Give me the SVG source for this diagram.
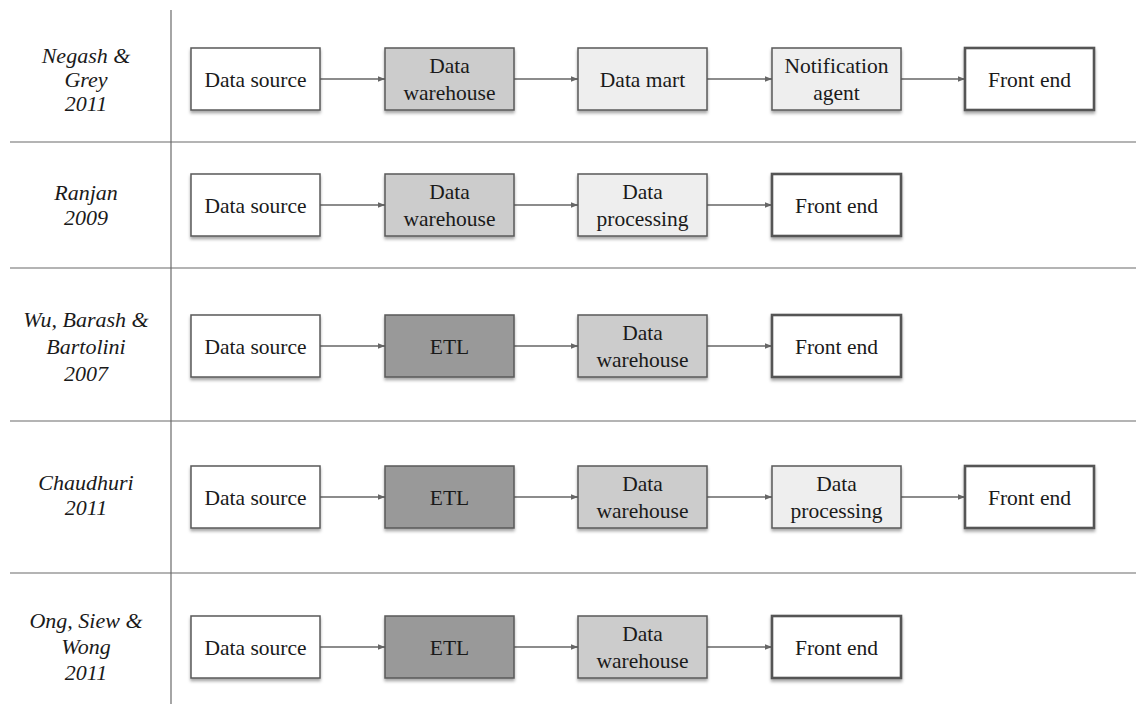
<svg xmlns="http://www.w3.org/2000/svg" width="1136" height="704" viewBox="0 0 1136 704">
  <defs>
    <filter id="shadow" x="-10%" y="-20%" width="120%" height="150%">
      <feDropShadow dx="0" dy="2.5" stdDeviation="1.8" flood-color="#000" flood-opacity="0.35"/>
    </filter>
    <marker id="arrow" viewBox="0 0 10 10" refX="10" refY="5" markerWidth="7" markerHeight="7" orient="auto" markerUnits="userSpaceOnUse">
      <path d="M0,1 L10,5 L0,9 Z" fill="#666"/>
    </marker>
  </defs>
  <style>
    .bg { fill: #ffffff; }
    .grid { stroke: #6a6a6a; stroke-width: 1.2; fill: none; }
    .box { stroke: #5a5a5a; stroke-width: 1.5; filter: url(#shadow); }
    .src { fill: #ffffff; }
    .dw { fill: #cccccc; }
    .lt { fill: #eeeeee; }
    .etl { fill: #999999; }
    .fe { fill: #ffffff; stroke-width: 2.6; stroke: #555; }
    .t { font-family: "Liberation Serif", "DejaVu Serif", serif; font-size: 21.5px; fill: #1a1a1a; text-anchor: middle; }
    .lbl { font-family: "Liberation Serif", "DejaVu Serif", serif; font-style: italic; font-size: 22px; fill: #1a1a1a; text-anchor: middle; }
    .conn { stroke: #666; stroke-width: 1.3; fill: none; marker-end: url(#arrow); }
  </style>
  <rect class="bg" width="1136" height="704"/>

  <!-- table grid -->
  <g id="grid" class="grid">
    <line x1="171" y1="10" x2="171" y2="704"/>
    <line x1="10" y1="142" x2="1136" y2="142"/>
    <line x1="10" y1="268" x2="1136" y2="268"/>
    <line x1="10" y1="421" x2="1136" y2="421"/>
    <line x1="10" y1="573" x2="1136" y2="573"/>
  </g>

  <!-- row labels -->
  <g id="label-negash">
    <text class="lbl" x="86" y="63">Negash &amp;</text>
    <text class="lbl" x="86" y="87">Grey</text>
    <text class="lbl" x="86" y="111">2011</text>
  </g>
  <g id="label-ranjan">
    <text class="lbl" x="86" y="200">Ranjan</text>
    <text class="lbl" x="86" y="225">2009</text>
  </g>
  <g id="label-wu">
    <text class="lbl" x="86" y="327">Wu, Barash &amp;</text>
    <text class="lbl" x="86" y="354">Bartolini</text>
    <text class="lbl" x="86" y="381">2007</text>
  </g>
  <g id="label-chaudhuri">
    <text class="lbl" x="86" y="490">Chaudhuri</text>
    <text class="lbl" x="86" y="515">2011</text>
  </g>
  <g id="label-ong">
    <text class="lbl" x="86" y="628">Ong, Siew &amp;</text>
    <text class="lbl" x="86" y="654">Wong</text>
    <text class="lbl" x="86" y="680">2011</text>
  </g>

  <!-- connectors -->
  <g id="connectors">
    <!-- row 1 -->
    <line class="conn" x1="320" y1="79" x2="385" y2="79"/>
    <line class="conn" x1="514" y1="79" x2="578" y2="79"/>
    <line class="conn" x1="707" y1="79" x2="772" y2="79"/>
    <line class="conn" x1="901" y1="79" x2="965" y2="79"/>
    <!-- row 2 -->
    <line class="conn" x1="320" y1="205" x2="385" y2="205"/>
    <line class="conn" x1="514" y1="205" x2="578" y2="205"/>
    <line class="conn" x1="707" y1="205" x2="772" y2="205"/>
    <!-- row 3 -->
    <line class="conn" x1="320" y1="346" x2="385" y2="346"/>
    <line class="conn" x1="514" y1="346" x2="578" y2="346"/>
    <line class="conn" x1="707" y1="346" x2="772" y2="346"/>
    <!-- row 4 -->
    <line class="conn" x1="320" y1="497" x2="385" y2="497"/>
    <line class="conn" x1="514" y1="497" x2="578" y2="497"/>
    <line class="conn" x1="707" y1="497" x2="772" y2="497"/>
    <line class="conn" x1="901" y1="497" x2="965" y2="497"/>
    <!-- row 5 -->
    <line class="conn" x1="320" y1="647" x2="385" y2="647"/>
    <line class="conn" x1="514" y1="647" x2="578" y2="647"/>
    <line class="conn" x1="707" y1="647" x2="772" y2="647"/>
  </g>

  <!-- row 1: Negash & Grey -->
  <g id="r1-source"><rect class="box src" x="191" y="48" width="129" height="62"/><text class="t" x="255.5" y="86.5">Data source</text></g>
  <g id="r1-warehouse"><rect class="box dw" x="385" y="48" width="129" height="62"/><text class="t" x="449.5" y="73">Data</text><text class="t" x="449.5" y="100">warehouse</text></g>
  <g id="r1-mart"><rect class="box lt" x="578" y="48" width="129" height="62"/><text class="t" x="642.5" y="86.5">Data mart</text></g>
  <g id="r1-notification"><rect class="box lt" x="772" y="48" width="129" height="62"/><text class="t" x="836.5" y="73">Notification</text><text class="t" x="836.5" y="100">agent</text></g>
  <g id="r1-frontend"><rect class="box fe" x="965" y="48" width="129" height="62"/><text class="t" x="1029.5" y="86.5">Front end</text></g>

  <!-- row 2: Ranjan -->
  <g id="r2-source"><rect class="box src" x="191" y="174" width="129" height="62"/><text class="t" x="255.5" y="212.5">Data source</text></g>
  <g id="r2-warehouse"><rect class="box dw" x="385" y="174" width="129" height="62"/><text class="t" x="449.5" y="199">Data</text><text class="t" x="449.5" y="226">warehouse</text></g>
  <g id="r2-processing"><rect class="box lt" x="578" y="174" width="129" height="62"/><text class="t" x="642.5" y="199">Data</text><text class="t" x="642.5" y="226">processing</text></g>
  <g id="r2-frontend"><rect class="box fe" x="772" y="174" width="129" height="62"/><text class="t" x="836.5" y="212.5">Front end</text></g>

  <!-- row 3: Wu, Barash & Bartolini -->
  <g id="r3-source"><rect class="box src" x="191" y="315" width="129" height="62"/><text class="t" x="255.5" y="353.5">Data source</text></g>
  <g id="r3-etl"><rect class="box etl" x="385" y="315" width="129" height="62"/><text class="t" x="449.5" y="353.5">ETL</text></g>
  <g id="r3-warehouse"><rect class="box dw" x="578" y="315" width="129" height="62"/><text class="t" x="642.5" y="340">Data</text><text class="t" x="642.5" y="367">warehouse</text></g>
  <g id="r3-frontend"><rect class="box fe" x="772" y="315" width="129" height="62"/><text class="t" x="836.5" y="353.5">Front end</text></g>

  <!-- row 4: Chaudhuri -->
  <g id="r4-source"><rect class="box src" x="191" y="466" width="129" height="62"/><text class="t" x="255.5" y="504.5">Data source</text></g>
  <g id="r4-etl"><rect class="box etl" x="385" y="466" width="129" height="62"/><text class="t" x="449.5" y="504.5">ETL</text></g>
  <g id="r4-warehouse"><rect class="box dw" x="578" y="466" width="129" height="62"/><text class="t" x="642.5" y="491">Data</text><text class="t" x="642.5" y="518">warehouse</text></g>
  <g id="r4-processing"><rect class="box lt" x="772" y="466" width="129" height="62"/><text class="t" x="836.5" y="491">Data</text><text class="t" x="836.5" y="518">processing</text></g>
  <g id="r4-frontend"><rect class="box fe" x="965" y="466" width="129" height="62"/><text class="t" x="1029.5" y="504.5">Front end</text></g>

  <!-- row 5: Ong, Siew & Wong -->
  <g id="r5-source"><rect class="box src" x="191" y="616" width="129" height="62"/><text class="t" x="255.5" y="654.5">Data source</text></g>
  <g id="r5-etl"><rect class="box etl" x="385" y="616" width="129" height="62"/><text class="t" x="449.5" y="654.5">ETL</text></g>
  <g id="r5-warehouse"><rect class="box dw" x="578" y="616" width="129" height="62"/><text class="t" x="642.5" y="641">Data</text><text class="t" x="642.5" y="668">warehouse</text></g>
  <g id="r5-frontend"><rect class="box fe" x="772" y="616" width="129" height="62"/><text class="t" x="836.5" y="654.5">Front end</text></g>
</svg>
